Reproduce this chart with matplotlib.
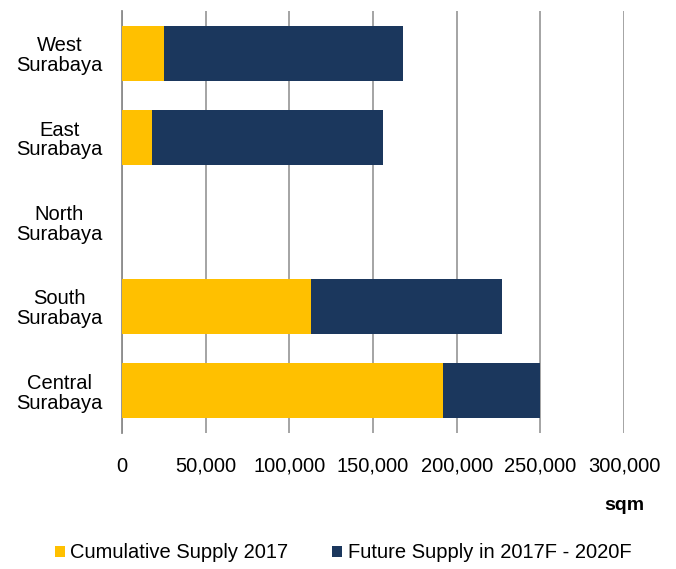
import numpy as np
import matplotlib
matplotlib.use("Agg")
from matplotlib import pyplot as plt

# data (top to bottom as shown)
regions = ["West\nSurabaya", "East\nSurabaya", "North\nSurabaya",
           "South\nSurabaya", "Central\nSurabaya"]
cumulative_2017 = [25000, 18000, 0, 113000, 192000]
future_2017_2020 = [143000, 138000, 0, 114000, 58000]
x_ticks = [0, 50000, 100000, 150000, 200000, 250000, 300000]

plt.rcParams["font.family"] = ["Liberation Sans", "DejaVu Sans"]

fig = plt.figure(figsize=(6.76, 5.69), dpi=100)
ax = fig.add_axes([122 / 676, 1 - 433 / 569, (624 - 122) / 676, (433 - 11) / 569])

y = np.arange(len(regions))
ax.barh(y, cumulative_2017, height=0.65, color="#FFC000",
        label="Cumulative Supply 2017", zorder=3)
ax.barh(y, future_2017_2020, left=cumulative_2017, height=0.65, color="#1B375D",
        label="Future Supply in 2017F - 2020F", zorder=3)

ax.set_ylim(len(regions) - 0.5, -0.5)
ax.set_yticks(y)
ax.set_yticklabels(regions, fontsize=14.5, multialignment="center", linespacing=1.05)
ax.set_xlim(0, 300000)
ax.set_xticks(x_ticks)
ax.set_xticklabels([f"{v:,}" for v in x_ticks], fontsize=14.5)
ax.tick_params(axis="y", length=0, pad=14)
ax.tick_params(axis="x", length=0, pad=17)

ax.grid(axis="x", color="#8C8C8C", linewidth=1.1, zorder=0)
for s in ["top", "right", "bottom"]:
    ax.spines[s].set_visible(False)
ax.spines["left"].set_color("#8C8C8C")
ax.spines["left"].set_linewidth(1.3)

fig.text(644 / 676, 1 - 506 / 569, "sqm", fontsize=14, fontweight="bold",
         ha="right", va="center")

fig.legend(loc="center", bbox_to_anchor=(343 / 676, 1 - 553 / 569), ncol=2,
           frameon=False, fontsize=14.5, handlelength=0.5, handleheight=0.5,
           handletextpad=0.25, columnspacing=2.2, borderpad=0, borderaxespad=0)

fig.savefig("out.png", dpi=100)
